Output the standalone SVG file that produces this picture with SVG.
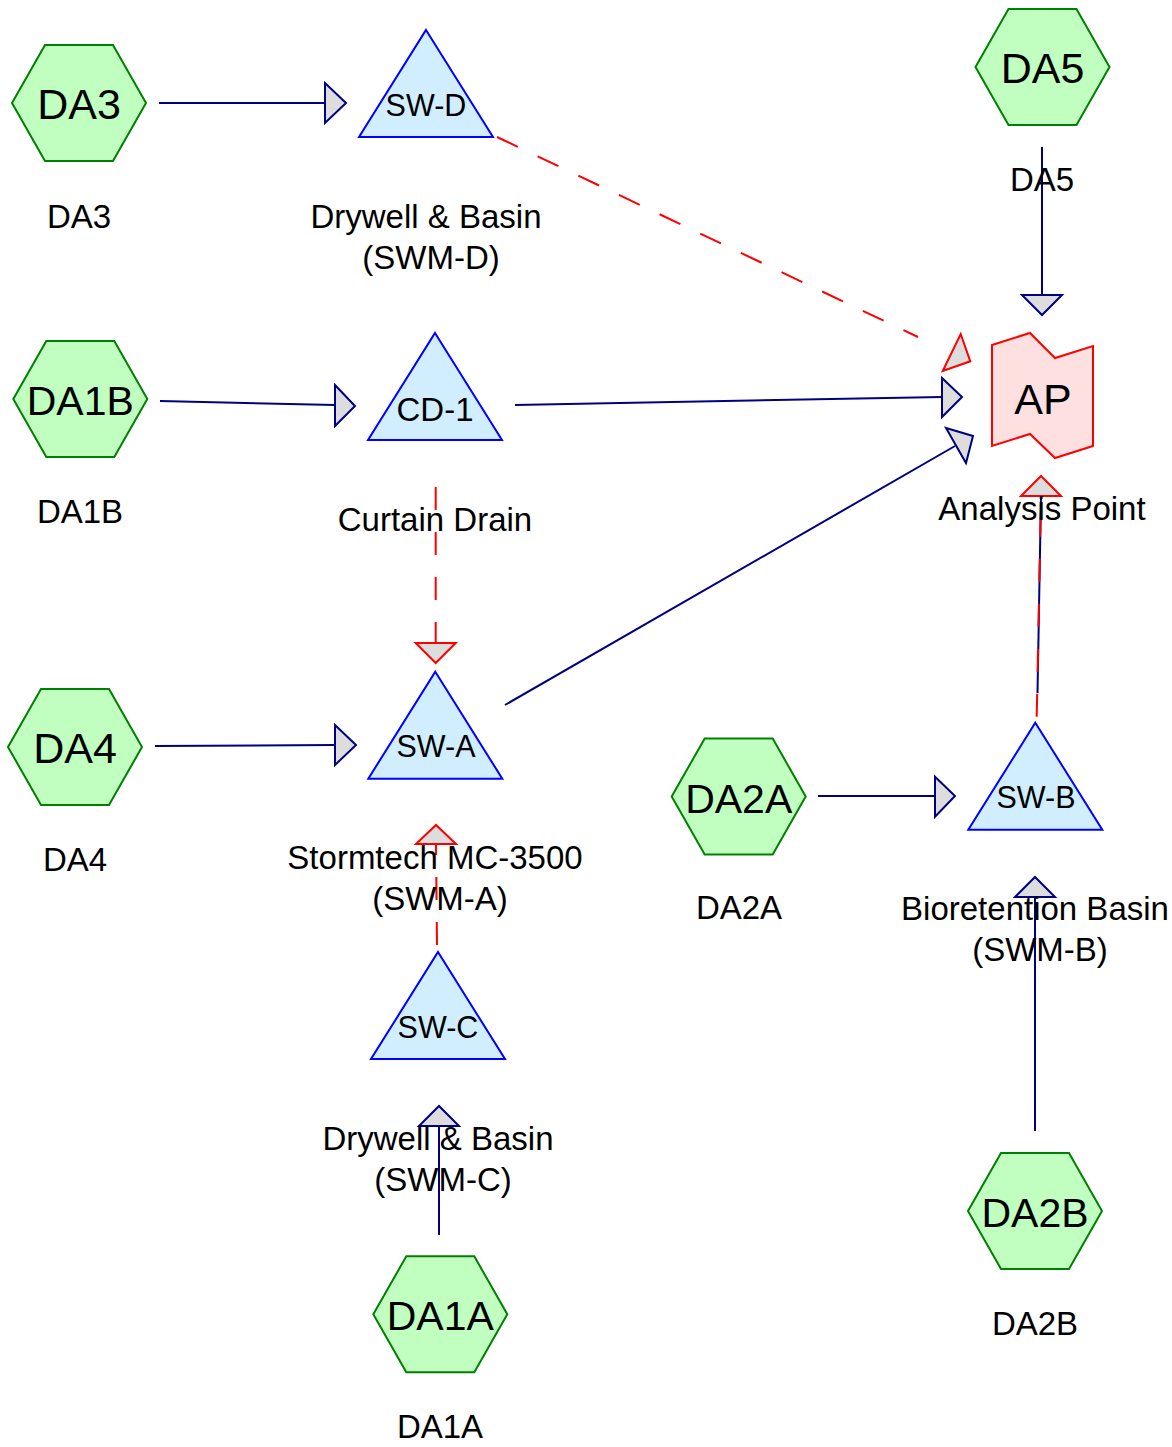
<svg xmlns="http://www.w3.org/2000/svg" xmlns:xlink="http://www.w3.org/1999/xlink" width="1172" height="1447" viewBox="0 0 1172 1447">
<style>
  .hex { fill: #c0ffc0; stroke: #008000; stroke-width: 2; }
  .tri { fill: #d0eeff; stroke: #0000ff; stroke-width: 2; }
  .ap { fill: #ffe0e0; stroke: #ff0000; stroke-width: 2; }
  .line { fill: none; stroke: #000080; stroke-width: 2; }
  .dash { fill: none; stroke: #ff0000; stroke-width: 2; stroke-dasharray: 23 22; }
  .ah { fill: #dddddd; stroke: #000080; stroke-width: 2; stroke-linejoin: miter; }
  .ahr { fill: #dddddd; stroke: #ff0000; stroke-width: 2; stroke-linejoin: miter; }
  text { font-family: "Liberation Sans", Arial, sans-serif; fill: #000000; text-anchor: middle; }
  .hl { font-size: 41px; }
  .hl3 { font-size: 43px; }
  .tl { font-size: 30.5px; }
  .lb { font-size: 33px; }
</style>
<defs>
  <polygon id="hexshape" points="-67,0 -34,-58 34,-58 67,0 34,58 -34,58"/>
  <polygon id="trishape" points="0,0 67,107 -67,107"/>
</defs>

<g id="connectors">
  <line class="line" x1="159" y1="103" x2="325" y2="103"/>
  <polygon class="ah" points="325,83 346,103 325,123"/>

  <line class="dash" x1="497" y1="137" x2="918" y2="337"/>
  <polygon class="ahr" points="960.7,334 970.3,361.3 942.7,371"/>

  <line class="line" x1="1042" y1="147" x2="1042" y2="295"/>
  <polygon class="ah" points="1022,295 1062,295 1042,315"/>

  <line class="line" x1="160" y1="401" x2="335" y2="405"/>
  <polygon class="ah" points="335,385 355,406 335,426"/>

  <line class="line" x1="515" y1="405" x2="942" y2="397"/>
  <polygon class="ah" points="942,378 962,397 942,417"/>

  <line class="dash" x1="435.7" y1="487" x2="435.7" y2="643"/>
  <polygon class="ahr" points="415.7,643 455.7,643 435.7,663"/>

  <line class="line" x1="505" y1="705" x2="955" y2="446"/>
  <polygon class="ah" points="946,428 973,436 966,463"/>

  <line class="line" x1="155" y1="746" x2="335" y2="745"/>
  <polygon class="ah" points="335,725 356,745 335,765"/>

  <line class="dash" x1="437" y1="945" x2="436" y2="844"/>
  <polygon class="ahr" points="416,844 456,844 436,825"/>

  <line class="line" x1="439" y1="1235" x2="439" y2="1126"/>
  <polygon class="ah" points="419,1126 459,1126 439,1106"/>

  <line class="line" x1="818" y1="796" x2="935" y2="796"/>
  <polygon class="ah" points="935,776.7 955,796 935,816.7"/>

  <line class="line" x1="1035" y1="1131" x2="1035" y2="897"/>
  <polygon class="ah" points="1015,897 1055,897 1035,877"/>

  <line class="line" x1="1041" y1="496" x2="1037.5" y2="693"/>
  <line class="dash" x1="1036.7" y1="716.7" x2="1041" y2="497"/>
  <polygon class="ahr" points="1021,496 1061,496 1041,476"/>
</g>

<g id="DA3">
  <use xlink:href="#hexshape" href="#hexshape" class="hex" x="79" y="103"/>
  <text class="hl3" x="79" y="119">DA3</text>
  <text class="lb" x="79" y="228">DA3</text>
</g>
<g id="SW-D">
  <use xlink:href="#trishape" href="#trishape" class="tri" x="426" y="30"/>
  <text class="tl" x="426" y="116">SW-D</text>
  <text class="lb" x="426" y="228">Drywell &amp; Basin</text>
  <text class="lb" x="431" y="269">(SWM-D)</text>
</g>
<g id="DA5">
  <use xlink:href="#hexshape" href="#hexshape" class="hex" x="1042.5" y="67"/>
  <text class="hl3" x="1042.5" y="83">DA5</text>
  <text class="lb" x="1042" y="191">DA5</text>
</g>
<g id="AP">
  <polygon class="ap" points="992,345 1030,333 1055,358 1093,346 1093,446 1055,458 1030,434 992,446"/>
  <text style="font-size:43px" x="1043" y="414">AP</text>
  <text class="lb" x="1042" y="520">Analysis Point</text>
</g>
<g id="DA1B">
  <use xlink:href="#hexshape" href="#hexshape" class="hex" x="80.3" y="399"/>
  <text class="hl" x="80.3" y="415">DA1B</text>
  <text class="lb" x="80" y="523">DA1B</text>
</g>
<g id="CD-1">
  <use xlink:href="#trishape" href="#trishape" class="tri" x="435" y="333"/>
  <text style="font-size:33px" x="435" y="421">CD-1</text>
  <text class="lb" x="435" y="531">Curtain Drain</text>
</g>
<g id="DA4">
  <use xlink:href="#hexshape" href="#hexshape" class="hex" x="75" y="747"/>
  <text class="hl3" x="75" y="763">DA4</text>
  <text class="lb" x="75" y="871">DA4</text>
</g>
<g id="SW-A">
  <use xlink:href="#trishape" href="#trishape" class="tri" x="435.3" y="671.7"/>
  <text class="tl" x="436" y="757">SW-A</text>
  <text class="lb" x="435" y="869">Stormtech MC-3500</text>
  <text class="lb" x="440" y="910">(SWM-A)</text>
</g>
<g id="DA2A">
  <use xlink:href="#hexshape" href="#hexshape" class="hex" x="738.7" y="796.5"/>
  <text class="hl" x="738.7" y="813">DA2A</text>
  <text class="lb" x="739" y="919">DA2A</text>
</g>
<g id="SW-B">
  <use xlink:href="#trishape" href="#trishape" class="tri" x="1035.3" y="722.7"/>
  <text class="tl" x="1036" y="808">SW-B</text>
  <text class="lb" x="1035" y="920">Bioretention Basin</text>
  <text class="lb" x="1040" y="961">(SWM-B)</text>
</g>
<g id="SW-C">
  <use xlink:href="#trishape" href="#trishape" class="tri" x="438" y="952"/>
  <text class="tl" x="438" y="1038">SW-C</text>
  <text class="lb" x="438" y="1150">Drywell &amp; Basin</text>
  <text class="lb" x="443" y="1191">(SWM-C)</text>
</g>
<g id="DA2B">
  <use xlink:href="#hexshape" href="#hexshape" class="hex" x="1035" y="1211"/>
  <text class="hl" x="1035" y="1227">DA2B</text>
  <text class="lb" x="1035" y="1335">DA2B</text>
</g>
<g id="DA1A">
  <use xlink:href="#hexshape" href="#hexshape" class="hex" x="440.3" y="1314.3"/>
  <text class="hl" x="440.3" y="1330">DA1A</text>
  <text class="lb" x="440" y="1438">DA1A</text>
</g>
</svg>
